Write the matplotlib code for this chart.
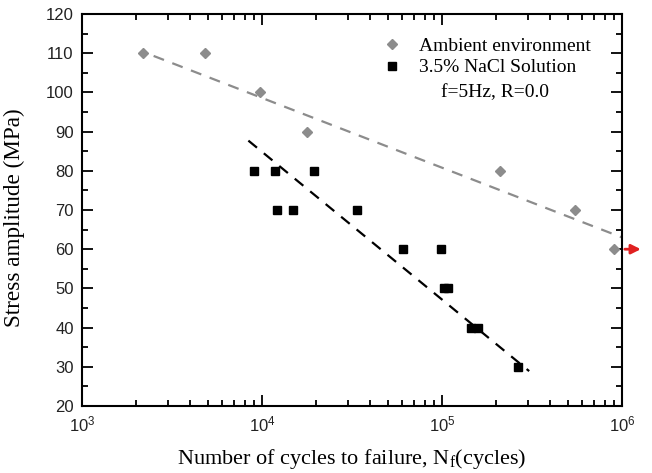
import numpy as np
import matplotlib.pyplot as plt
from matplotlib.ticker import LogLocator, MultipleLocator, NullFormatter

# S-N data
ambient_n = [2175, 4820, 9750, 17800, 211000, 550000, 903000]
ambient_s = [110, 110, 100, 90, 80, 70, 60]

nacl_n = [9060, 11860, 12170, 14860, 19370, 33560, 60900, 98400,
          102600, 108400, 144200, 158500, 263700]
nacl_s = [80, 80, 70, 70, 80, 70, 60, 60, 50, 50, 40, 40, 30]

# fitted trend lines (end points)
ambient_fit_n = [2500, 1.0e6]
ambient_fit_s = [109.3, 63.0]
nacl_fit_n = [8400, 305000]
nacl_fit_s = [87.7, 28.9]

serif = 'Liberation Serif'
sans = 'Liberation Sans'

fig = plt.figure(figsize=(6.52, 4.73), dpi=100)
ax = fig.add_axes([82 / 652, 1 - 406 / 473, 540 / 652, 392 / 473])

ax.plot(ambient_fit_n, ambient_fit_s, '--', color='#8c8c8c', lw=1.6, dashes=(5, 4))
ax.plot(nacl_fit_n, nacl_fit_s, '--', color='black', lw=1.6, dashes=(5, 4))
ax.plot(ambient_n, ambient_s, 'D', color='#8c8c8c', ms=5.5, ls='none',
        label='Ambient environment')
ax.plot(nacl_n, nacl_s, 's', color='black', ms=6, ls='none',
        label='3.5% NaCl Solution')

ax.set_xscale('log')
ax.set_xlim(1e3, 1e6)
ax.set_ylim(20, 120)
ax.yaxis.set_major_locator(MultipleLocator(10))
ax.yaxis.set_minor_locator(MultipleLocator(5))
ax.xaxis.set_minor_locator(LogLocator(base=10, subs=np.arange(2, 10)))
ax.xaxis.set_minor_formatter(NullFormatter())

ax.tick_params(which='both', direction='in', top=True, right=True, width=1.3)
ax.tick_params(which='major', length=8, labelsize=12, pad=6)
ax.tick_params(which='minor', length=4.5)
for lab in ax.get_xticklabels() + ax.get_yticklabels():
    lab.set_fontfamily(sans)
    lab.set_color('#222222')
for sp in ax.spines.values():
    sp.set_linewidth(1.5)

ax.set_xlabel('Number of cycles to failure, N$_\\mathregular{f}$(cycles)',
              fontfamily=serif, fontsize=16, labelpad=9)
ax.set_ylabel('Stress amplitude (MPa)', fontfamily=serif, fontsize=16.7)
ax.yaxis.set_label_coords(-0.106, 0.48)

leg = ax.legend(loc='upper right', bbox_to_anchor=(0.975, 0.985), frameon=False,
                prop={'family': serif, 'size': 14}, handletextpad=0.9,
                handlelength=1.0, labelspacing=0.2)
ax.text(0.765, 0.80, 'f=5Hz, R=0.0', transform=ax.transAxes, ha='center',
        va='center', fontfamily=serif, fontsize=14)

# runout arrow at the last ambient point
ax.annotate('', xy=(1.04, 60), xycoords=('axes fraction', 'data'),
            xytext=(1.0, 60), textcoords=('axes fraction', 'data'),
            arrowprops=dict(arrowstyle='-|>', color='#e02020', lw=2.0,
                            mutation_scale=14),
            annotation_clip=False)

fig.savefig('out.png', dpi=100)
